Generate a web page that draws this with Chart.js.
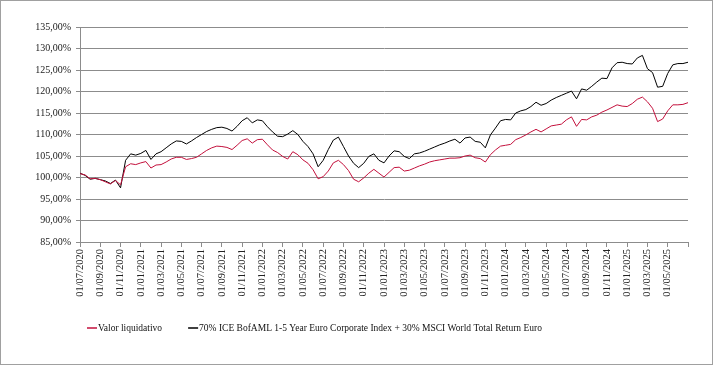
<!DOCTYPE html>
<html>
<head>
<meta charset="utf-8">
<script src="https://cdn.jsdelivr.net/npm/chart.js@4.4.1/dist/chart.umd.min.js"></script>
<style>
  html, body { margin: 0; padding: 0; background: #fff; }
  #wrap { width: 713px; height: 365px; box-sizing: border-box; border: 1px solid #a0a0a0; }
  #chart { display: block; }
</style>
</head>
<body>
<div id="wrap"><canvas id="chart" width="711" height="363"></canvas></div>
<script>
// tick labels, one every 2 months (each step on the x axis is half a month)
const tickLabels = [
    '01/07/2020', '01/09/2020', '01/11/2020', '01/01/2021', '01/03/2021', '01/05/2021',
    '01/07/2021', '01/09/2021', '01/11/2021', '01/01/2022', '01/03/2022', '01/05/2022',
    '01/07/2022', '01/09/2022', '01/11/2022', '01/01/2023', '01/03/2023', '01/05/2023',
    '01/07/2023', '01/09/2023', '01/11/2023', '01/01/2024', '01/03/2024', '01/05/2024',
    '01/07/2024', '01/09/2024', '01/11/2024', '01/01/2025', '01/03/2025', '01/05/2025'
];

const seriesNames = [
    'Valor liquidativo',
    '70% ICE BofAML 1-5 Year Euro Corporate Index + 30% MSCI World Total Return Euro'
];

// Valor liquidativo, half-monthly readings from 01/07/2020
const fundValues = [
    100.9, 100.6, 99.7, 99.8, 99.5, 99.0, 98.5, 99.3, 98.3, 102.5,
    103.2, 103.0, 103.4, 103.7, 102.2, 102.9, 103.0, 103.6, 104.3, 104.7,
    104.7, 104.2, 104.4, 104.7, 105.5, 106.3, 106.9, 107.3, 107.2, 107.0,
    106.5, 107.5, 108.6, 109.0, 108.0, 108.8, 108.9, 107.6, 106.4, 105.8,
    104.9, 104.3, 106.0, 105.3, 104.1, 103.3, 101.8, 99.7, 100.2, 101.5,
    103.4, 104.0, 103.0, 101.6, 99.6, 99.0, 99.9, 101.0, 101.9, 101.0,
    100.1, 101.2, 102.3, 102.4, 101.5, 101.7, 102.2, 102.7, 103.1, 103.6,
    103.9, 104.1, 104.3, 104.5, 104.5, 104.6, 105.0, 105.2, 104.6, 104.4,
    103.6, 105.3, 106.4, 107.3, 107.5, 107.7, 108.8, 109.3, 109.9, 110.6,
    111.2, 110.6, 111.3, 112.0, 112.2, 112.4, 113.4, 114.1, 111.9, 113.5,
    113.4, 114.1, 114.5, 115.2, 115.7, 116.3, 116.9, 116.6, 116.5, 117.2,
    118.2, 118.7, 117.6, 116.1, 113.0, 113.6, 115.5, 116.9, 116.9, 117.0,
    117.4
];

// benchmark, same dates
const benchValues = [
    101.0, 100.5, 99.6, 99.8, 99.5, 99.2, 98.6, 99.4, 97.6, 104.0,
    105.5, 105.2, 105.6, 106.3, 104.2, 105.5, 106.0, 106.9, 107.8, 108.5,
    108.4, 107.8, 108.5, 109.3, 110.0, 110.7, 111.2, 111.6, 111.7, 111.4,
    110.8, 111.9, 113.2, 113.9, 112.7, 113.4, 113.2, 111.8, 110.6, 109.6,
    109.5, 110.1, 110.9, 110.0, 108.4, 107.2, 105.5, 102.5, 104.0, 106.5,
    108.7, 109.4, 107.2, 105.0, 103.3, 102.3, 103.3, 104.9, 105.5, 104.0,
    103.4, 105.0, 106.2, 106.0, 104.9, 104.4, 105.5, 105.7, 106.1, 106.6,
    107.1, 107.6, 108.0, 108.5, 108.9, 108.0, 109.2, 109.4, 108.4, 108.2,
    106.9, 109.9, 111.5, 113.2, 113.5, 113.4, 115.0, 115.5, 115.8, 116.5,
    117.5, 116.8, 117.2, 118.0, 118.6, 119.1, 119.6, 120.1, 118.3, 120.6,
    120.3, 121.2, 122.2, 123.1, 123.0, 125.5, 126.7, 126.8, 126.5, 126.4,
    127.8, 128.4, 125.3, 124.4, 121.0, 121.2, 124.2, 126.2, 126.5, 126.5,
    126.8
];

const toPoints = arr => arr.map((v, i) => ({ x: i, y: v }));
const axisFont = '"Liberation Serif", "DejaVu Serif", serif';
const gridColor = '#8c8c8c';

// legend drawn under the axis labels, starting near the plot's left edge
const bottomLegend = {
    id: 'bottomLegend',
    afterDraw(chart) {
        const ctx = chart.ctx;
        const y = chart.chartArea.bottom + 86;
        let x = chart.chartArea.left + 7;
        ctx.save();
        ctx.font = '9.5px ' + axisFont;
        ctx.textBaseline = 'middle';
        chart.data.datasets.forEach(ds => {
            ctx.strokeStyle = ds.borderColor;
            ctx.lineWidth = 1.5;
            ctx.beginPath();
            ctx.moveTo(x, y);
            ctx.lineTo(x + 10, y);
            ctx.stroke();
            ctx.fillStyle = '#111';
            ctx.fillText(ds.label, x + 11, y);
            x += 11 + ctx.measureText(ds.label).width + 26;
        });
        ctx.restore();
    }
};

new Chart(document.getElementById('chart'), {
    type: 'line',
    data: {
        datasets: [{
            label: seriesNames[0],
            data: toPoints(fundValues),
            borderColor: '#c3103c',
            borderWidth: 1,
            pointRadius: 0,
            tension: 0
        }, {
            label: seriesNames[1],
            data: toPoints(benchValues),
            borderColor: '#000000',
            borderWidth: 1,
            pointRadius: 0,
            tension: 0
        }]
    },
    options: {
        responsive: false,
        animation: false,
        layout: { padding: { left: 0, right: 24, top: 26, bottom: 52 } },
        plugins: {
            legend: { display: false },
            tooltip: { enabled: false }
        },
        scales: {
            x: {
                type: 'linear',
                min: 0,
                max: 120,
                afterFit: s => { s.height = 70; },
                afterBuildTicks: s => {
                    s.ticks = tickLabels.map((t, i) => ({ value: i * 4 })).concat([{ value: 120 }]);
                },
                ticks: {
                    autoSkip: false,
                    minRotation: 90,
                    maxRotation: 90,
                    padding: 2,
                    color: '#222',
                    font: { family: axisFont, size: 10.5 },
                    callback: v => tickLabels[v / 4] || ''
                },
                grid: { drawOnChartArea: false, drawTicks: true, tickLength: 5, color: gridColor },
                border: { display: true, color: gridColor }
            },
            y: {
                min: 85,
                max: 135,
                afterFit: s => { s.width = 79; },
                ticks: {
                    stepSize: 5,
                    padding: 5,
                    color: '#222',
                    font: { family: axisFont, size: 10 },
                    callback: v => v.toFixed(2).replace('.', ',') + '%'
                },
                grid: { color: gridColor, tickLength: 4, drawTicks: true },
                border: { display: true, color: gridColor }
            }
        }
    },
    plugins: [bottomLegend]
});
</script>
</body>
</html>
